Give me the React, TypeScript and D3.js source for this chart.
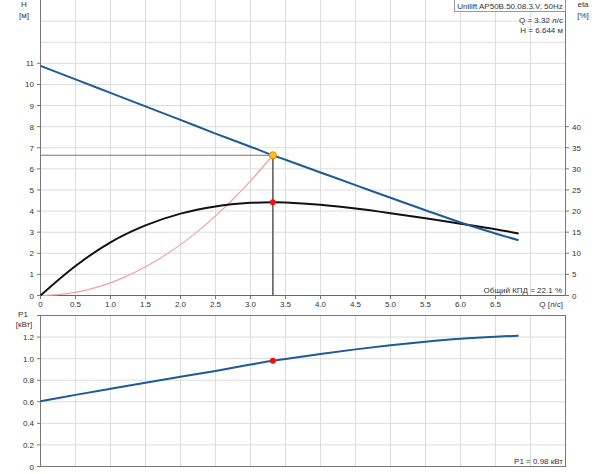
import React from "react";
import * as d3 from "d3";

const qTicks = [0, 0.5, 1.0, 1.5, 2.0, 2.5, 3.0, 3.5, 4.0, 4.5, 5.0, 5.5, 6.0, 6.5];
const hTicks = [0, 1, 2, 3, 4, 5, 6, 7, 8, 9, 10, 11];
const hGrid = [1, 2, 3, 4, 5, 6, 7, 8, 9, 10, 11, 12, 13];
const etaTicks = [0, 5, 10, 15, 20, 25, 30, 35, 40];
const pTicks = [0, 0.2, 0.4, 0.6, 0.8, 1.0, 1.2];

const curveQ = [0, 0.5, 1.0, 1.5, 2.0, 2.5, 3.0, 3.32, 3.5, 4.0, 4.5, 5.0, 5.5, 6.0, 6.5, 6.83];
const headH = [10.88, 10.24, 9.6, 8.96, 8.32, 7.67, 7.05, 6.644, 6.43, 5.83, 5.23, 4.63, 4.04, 3.46, 2.94, 2.62];
const etaPct = [0, 7.0, 12.6, 16.6, 19.4, 21.1, 21.95, 22.1, 22.05, 21.5, 20.6, 19.5, 18.3, 17.0, 15.7, 14.7];
const powerP1 = [0.605, 0.664, 0.721, 0.777, 0.832, 0.886, 0.945, 0.98, 0.997, 1.043, 1.086, 1.124, 1.157, 1.184, 1.203, 1.212];

const sysQ = [0, 0.25, 0.5, 0.75, 1.0, 1.25, 1.5, 1.75, 2.0, 2.25, 2.5, 2.75, 3.0, 3.32];
const sysH = [0, 0.04, 0.15, 0.34, 0.6, 0.94, 1.36, 1.85, 2.41, 3.05, 3.77, 4.56, 5.43, 6.644];

const opQ = 3.32;
const opH = 6.644;
const opEta = 22.1;
const opP1 = 0.98;

const FONT = "'Liberation Sans', Arial, sans-serif";
const TXT = "#333";
const GRID = "#dcdcdc";
const AXIS = "#777";
const BLUE = "#1f5a96";

export default function App() {
  const x = d3.scaleLinear().domain([0, 7.5]).range([40.5, 565.5]);
  const yH = d3.scaleLinear().domain([0, 14]).range([295.5, 0]);
  const yE = d3.scaleLinear().domain([0, 70]).range([295.5, 0]);
  const yP = d3.scaleLinear().domain([0, 1.4]).range([466.5, 315.5]);

  const smooth = d3.curveCatmullRom.alpha(0.5);
  const lineH = d3.line<number>().x((_, i) => x(curveQ[i])).y((d) => yH(d)).curve(smooth);
  const lineE = d3.line<number>().x((_, i) => x(curveQ[i])).y((d) => yE(d)).curve(smooth);
  const lineP = d3.line<number>().x((_, i) => x(curveQ[i])).y((d) => yP(d)).curve(smooth);
  const lineS = d3.line<number>().x((_, i) => x(sysQ[i])).y((d) => yH(d)).curve(smooth);

  const vGrid = qTicks.filter((q) => q > 0).concat([7.0]);

  return (
    <svg
      width={600}
      height={474}
      style={{ position: "absolute", left: 0, top: 0, display: "block", background: "#fff" }}
      fontFamily={FONT}
    >
      <rect x={0} y={0} width={600} height={474} fill="#fff" />
      {/* top plot grid */}
      {vGrid.map((q) => (
        <line key={"tv" + q} x1={x(q)} x2={x(q)} y1={0} y2={295.5} stroke={GRID} />
      ))}
      {hGrid.map((h) => (
        <line key={"th" + h} x1={40.5} x2={565.5} y1={yH(h)} y2={yH(h)} stroke={GRID} />
      ))}
      {/* bottom plot grid */}
      {vGrid.map((q) => (
        <line key={"bv" + q} x1={x(q)} x2={x(q)} y1={315.5} y2={466.5} stroke={GRID} />
      ))}
      {pTicks.filter((p) => p > 0).map((p) => (
        <line key={"bh" + p} x1={40.5} x2={565.5} y1={yP(p)} y2={yP(p)} stroke={GRID} />
      ))}

      {/* top plot axes */}
      <line x1={40.5} x2={40.5} y1={0} y2={295.5} stroke={AXIS} />
      <line x1={565.5} x2={565.5} y1={0} y2={295.5} stroke={AXIS} />
      <line x1={40.5} x2={565.5} y1={295.5} y2={295.5} stroke="#666" />
      {hTicks.map((h) => (
        <g key={"hl" + h}>
          <line x1={37} x2={40.5} y1={yH(h)} y2={yH(h)} stroke={AXIS} />
          <text x={34} y={yH(h) + 3} fontSize={8} fill={TXT} textAnchor="end">{h}</text>
        </g>
      ))}
      {etaTicks.map((e) => (
        <g key={"el" + e}>
          <line x1={565.5} x2={569} y1={yE(e)} y2={yE(e)} stroke={AXIS} />
          <text x={572} y={yE(e) + 3} fontSize={8} fill={TXT}>{e}</text>
        </g>
      ))}
      {qTicks.map((q) => (
        <g key={"ql" + q}>
          <line x1={x(q)} x2={x(q)} y1={295.5} y2={299} stroke={AXIS} />
          <text x={x(q)} y={307} fontSize={8} fill={TXT} textAnchor="middle">{q === 0 ? "0" : q.toFixed(1)}</text>
        </g>
      ))}
      <text x={563} y={307} fontSize={8} fill={TXT} textAnchor="end">Q [л/с]</text>
      <text x={24} y={7} fontSize={8} fill={TXT} textAnchor="middle">H</text>
      <text x={24} y={18} fontSize={8} fill={TXT} textAnchor="middle">[м]</text>
      <text x={583} y={7} fontSize={8} fill={TXT} textAnchor="middle">eta</text>
      <text x={583} y={18} fontSize={8} fill={TXT} textAnchor="middle">[%]</text>

      {/* bottom plot axes */}
      <rect x={40.5} y={315.5} width={525} height={151} fill="none" stroke={AXIS} />
      {pTicks.map((p) => (
        <g key={"pl" + p}>
          <line x1={37} x2={40.5} y1={yP(p)} y2={yP(p)} stroke={AXIS} />
          <text x={34} y={yP(p) + 3} fontSize={8} fill={TXT} textAnchor="end">{p === 0 ? "0" : p.toFixed(1)}</text>
        </g>
      ))}
      <line x1={37} x2={40.5} y1={315.5} y2={315.5} stroke={AXIS} />
      <text x={23} y={317} fontSize={8} fill={TXT} textAnchor="middle">P1</text>
      <text x={24} y={327} fontSize={8} fill={TXT} textAnchor="middle">[кВт]</text>

      {/* operating point guide lines */}
      <line x1={40.5} x2={x(opQ)} y1={yH(opH)} y2={yH(opH)} stroke="#777" strokeWidth={1} />
      <line x1={x(opQ)} x2={x(opQ)} y1={yH(opH)} y2={295.5} stroke="#555" strokeWidth={1.5} />

      {/* curves */}
      <path d={lineS(sysH) || ""} fill="none" stroke="#f4a0a0" strokeWidth={1.2} />
      <path d={lineE(etaPct) || ""} fill="none" stroke="#111" strokeWidth={2} />
      <path d={lineH(headH) || ""} fill="none" stroke={BLUE} strokeWidth={2} />
      <path d={lineP(powerP1) || ""} fill="none" stroke={BLUE} strokeWidth={2} />

      {/* points */}
      <circle cx={x(opQ)} cy={yH(opH)} r={3.5} fill="#f7c21a" stroke="#f08a00" strokeWidth={1} />
      <circle cx={x(opQ)} cy={yE(opEta)} r={3} fill="#ee1111" />
      <circle cx={x(opQ)} cy={yP(opP1)} r={3} fill="#ee1111" />

      {/* annotations */}
      <rect x={454.5} y={-0.5} width={111} height={12} fill="#fff" stroke="#999" />
      <text x={510} y={9} fontSize={8} fill={TXT} textAnchor="middle">Unilift AP50B.50.08.3.V, 50Hz</text>
      <text x={563} y={23} fontSize={8} fill={TXT} textAnchor="end">Q = 3.32 л/с</text>
      <text x={563} y={33} fontSize={8} fill={TXT} textAnchor="end">H = 6.644 м</text>
      <text x={562} y={293} fontSize={8} fill={TXT} textAnchor="end">Общий КПД = 22.1 %</text>
      <text x={563} y={464} fontSize={8} fill={TXT} textAnchor="end">P1 = 0.98 кВт</text>
    </svg>
  );
}
